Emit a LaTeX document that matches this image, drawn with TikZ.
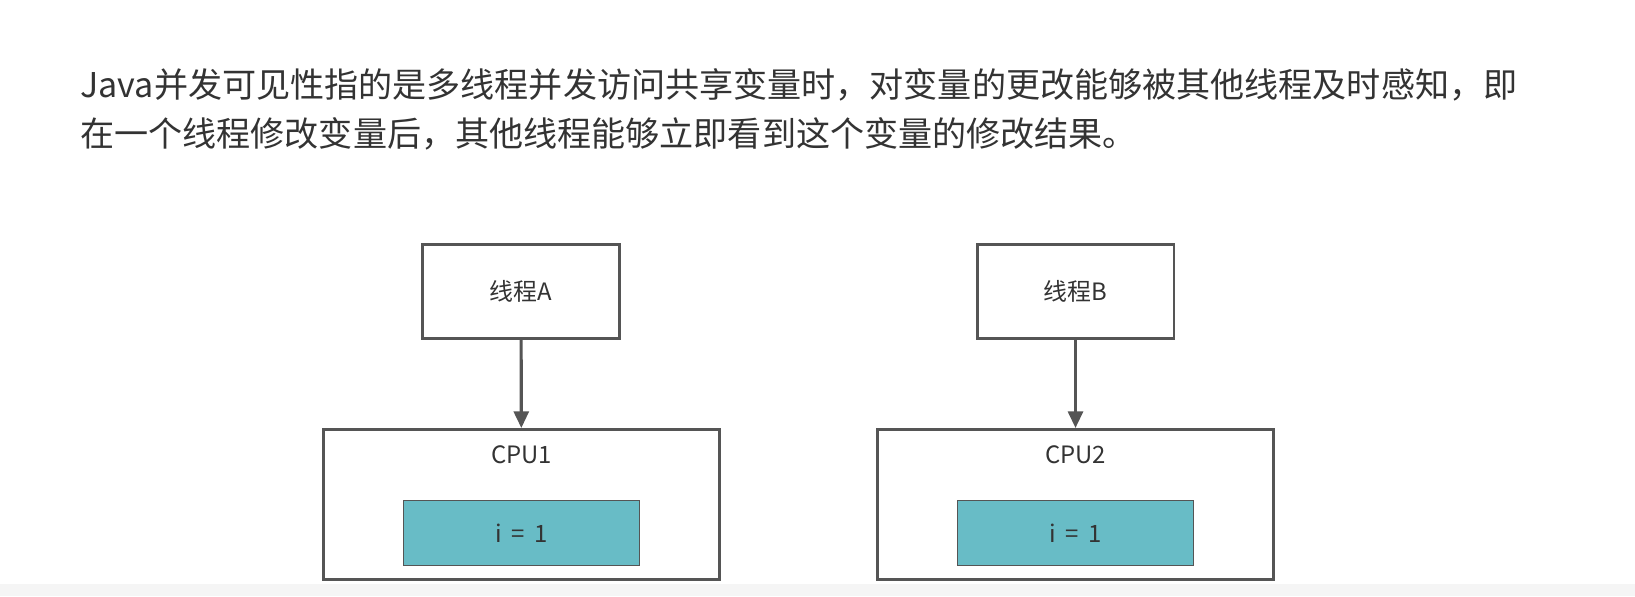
\documentclass[tikz,border=0pt]{standalone}
\usepackage{fontspec}
\setmainfont{Noto Sans CJK SC}
\usetikzlibrary{arrows.meta,positioning}
\definecolor{edge}{RGB}{85,85,85}
\definecolor{ink}{RGB}{51,51,51}
\definecolor{cache}{RGB}{104,188,198}
\definecolor{band}{RGB}{245,245,245}

\begin{document}
\begin{tikzpicture}[x=0.02cm, y=-0.02cm,
    thread/.style={draw=edge, line width=1.7pt, fill=white,
                   minimum width=3.94cm, minimum height=1.88cm,
                   font=\fontsize{13.6}{16}\selectfont, text=ink},
    core/.style={draw=edge, line width=1.7pt,
                 minimum width=7.92cm, minimum height=3.0cm},
    var/.style={draw=edge, line width=0.9pt, fill=cache,
                minimum width=4.72cm, minimum height=1.3cm,
                font=\fontsize{13.6}{16}\selectfont, text=ink},
    lbl/.style={font=\fontsize{13.6}{16}\selectfont, text=ink},
    para/.style={anchor=base west, inner sep=0pt,
                 font=\fontsize{19.4}{24}\selectfont, text=ink},
    arr/.style={-{Triangle[length=9.5pt, width=8.5pt]}, line width=1.8pt, draw=edge}]

    \useasboundingbox (0,0) rectangle (1635,596);
    \fill[band] (0,584) rectangle (1635,596);

    % text above the picture
    \node[para] (line1) at (80,97)  {Java并发可见性指的是多线程并发访问共享变量时，对变量的更改能够被其他线程及时感知，即};
    \node[para] (line2) at (80,146) {在一个线程修改变量后，其他线程能够立即看到这个变量的修改结果。};

    % threads
    \node[thread] (thrA) at (521,291.5)  {线程A};
    \node[thread] (thrB) at (1075.5,291.5) {线程B};

    % cpus with their copy of i
    \node[core] (cpu1) at (521.5,504.5) {};
    \node[core] (cpu2) at (1075.5,504.5) {};
    \node[lbl] (cpu1lbl) at (521.5,455) {CPU1};
    \node[lbl] (cpu2lbl) at (1075.5,455) {CPU2};
    \node[var] (var1) at (521.5,533) {i\ \,=\ \,1};
    \node[var] (var2) at (1075.5,533) {i\ \,=\ \,1};

    \draw[arr] (thrA) -- (cpu1);
    \draw[arr] (thrB) -- (cpu2);
\end{tikzpicture}
\end{document}
